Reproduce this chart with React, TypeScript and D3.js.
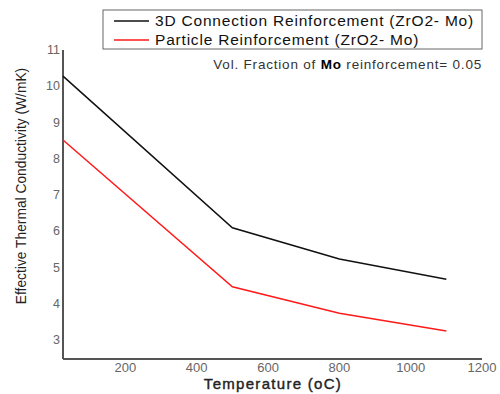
import React from 'react';
import * as d3 from 'd3';

const temps = [25, 500, 800, 1100];
const connection3D = [10.28, 6.1, 5.24, 4.68];
const particle = [8.52, 4.47, 3.74, 3.25];
const xTicks = [200, 400, 600, 800, 1000, 1200];
const yTicks = [3, 4, 5, 6, 7, 8, 9, 10, 11];
const seriesNames = ['3D Connection Reinforcement (ZrO2- Mo)', 'Particle Reinforcement (ZrO2- Mo)'];
const seriesColors = ['#111111', '#ff1a1a'];

export default function App() {
  const width = 500;
  const height = 394;
  const x = d3.scaleLinear().domain([25, 1200]).range([63, 482]);
  const y = d3.scaleLinear().domain([2.48, 11]).range([359, 50]);
  const line = d3.line<number>().x((_, i) => x(temps[i])).y(d => y(d));
  const series = [connection3D, particle];
  const font = '"Liberation Sans", Arial, sans-serif';

  return (
    <svg width={width} height={height} style={{ position: 'absolute', left: 0, top: 0, fontFamily: font }}>
      <rect width={width} height={height} fill="#fff" />
      {/* axes */}
      <line x1={x(25)} x2={x(1200)} y1={y(2.48)} y2={y(2.48)} stroke="#555" strokeWidth={2} />
      <line x1={x(25)} x2={x(25)} y1={y(2.48)} y2={y(11)} stroke="#555" strokeWidth={2} />
      {xTicks.map(t => (
        <text key={t} x={x(t)} y={372} textAnchor="middle" fontSize={13} fill="#666">{t}</text>
      ))}
      {yTicks.map(t => (
        <text key={t} x={60} y={y(t) + 4} textAnchor="end" fontSize={12.5} fill="#666">{t}</text>
      ))}
      <text x={273} y={389} textAnchor="middle" fontSize={15} fill="#222" stroke="#222" strokeWidth={0.4} letterSpacing={1.3}>Temperature (oC)</text>
      <text transform={`translate(26,${186}) rotate(-90)`} textAnchor="middle" fontSize={13.8} fill="#222">Effective Thermal Conductivity (W/mK)</text>

      {series.map((s, i) => (
        <path key={i} d={line(s) || ''} fill="none" stroke={seriesColors[i]} strokeWidth={1.5} />
      ))}

      {/* legend */}
      <rect x={103} y={10} width={379} height={39} fill="#fff" stroke="#666" strokeWidth={1} />
      {seriesNames.map((n, i) => (
        <g key={n}>
          <line x1={114} x2={149} y1={21 + i * 19} y2={21 + i * 19} stroke={seriesColors[i]} strokeWidth={1.5} />
          <text x={155} y={26 + i * 19} fontSize={15.5} fill="#111" letterSpacing={0.8}>{n}</text>
        </g>
      ))}
      <text x={482} y={69} textAnchor="end" fontSize={13.5} fill="#333" letterSpacing={0.8}>
        Vol. Fraction of <tspan fontWeight="bold" fill="#000">Mo</tspan> reinforcement= 0.05
      </text>
    </svg>
  );
}
